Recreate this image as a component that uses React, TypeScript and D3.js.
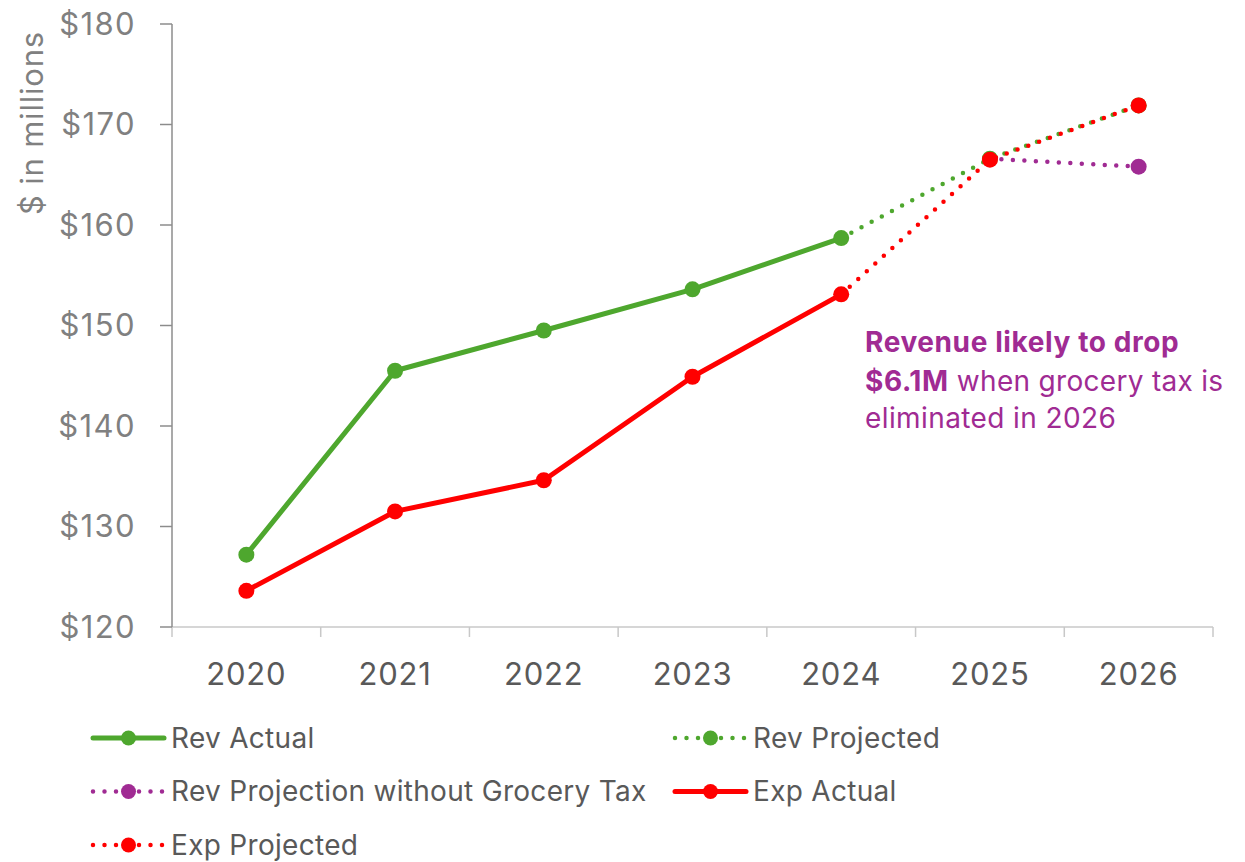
import React from "react";
import * as d3 from "d3";

const years = ["2020", "2021", "2022", "2023", "2024", "2025", "2026"];
const yTicks = [120, 130, 140, 150, 160, 170, 180];

const revActual = [127.2, 145.5, 149.5, 153.6, 158.7, null, null];
const revProjected = [null, null, null, null, 158.7, 166.6, 171.9];
const revNoGrocery = [null, null, null, null, null, 166.6, 165.8];
const expActual = [123.6, 131.5, 134.6, 144.9, 153.1, null, null];
const expProjected = [null, null, null, null, 153.1, 166.5, 171.9];

const GREEN = "#4EA72E";
const RED = "#FF0000";
const PURPLE = "#A02B93";
const FONT = "Inter, 'Open Sans', sans-serif";

type S = { name: string; values: (number | null)[]; color: string; dotted: boolean; markerAt: number[] };

const series: S[] = [
  { name: "Rev Projection without Grocery Tax", values: revNoGrocery, color: PURPLE, dotted: true, markerAt: [6] },
  { name: "Rev Projected", values: revProjected, color: GREEN, dotted: true, markerAt: [5, 6] },
  { name: "Rev Actual", values: revActual, color: GREEN, dotted: false, markerAt: [0, 1, 2, 3, 4] },
  { name: "Exp Projected", values: expProjected, color: RED, dotted: true, markerAt: [5, 6] },
  { name: "Exp Actual", values: expActual, color: RED, dotted: false, markerAt: [0, 1, 2, 3, 4] },
];

const legendItems = [
  { name: "Rev Actual", color: GREEN, dotted: false, col: 0, row: 0 },
  { name: "Rev Projected", color: GREEN, dotted: true, col: 1, row: 0 },
  { name: "Rev Projection without Grocery Tax", color: PURPLE, dotted: true, col: 0, row: 1 },
  { name: "Exp Actual", color: RED, dotted: false, col: 1, row: 1 },
  { name: "Exp Projected", color: RED, dotted: true, col: 0, row: 2 },
];

export default function App() {
  const W = 1245, H = 862;
  const left = 172, right = 1213, top = 24, bottom = 627;
  const x = d3.scaleBand<string>().domain(years).range([left, right]).padding(0);
  const y = d3.scaleLinear().domain([120, 180]).range([bottom, top]);
  const cx = (i: number) => (x(years[i]) as number) + x.bandwidth() / 2;

  const line = d3
    .line<number | null>()
    .defined((d) => d !== null)
    .x((_, i) => cx(i))
    .y((d) => y(d as number));

  const yAxisColor = "#8C8C8C";
  const xAxisColor = "#C8C8C8";

  return (
    <svg width={W} height={H} style={{ position: "absolute", left: 0, top: 0, background: "#fff" }}>
      {/* x axis */}
      <line x1={left} x2={right} y1={bottom} y2={bottom} stroke={xAxisColor} strokeWidth={1.5} />
      {years.map((yr) => (
        <line key={"t" + yr} x1={x(yr) as number} x2={x(yr) as number} y1={bottom} y2={bottom + 10} stroke={xAxisColor} strokeWidth={1.5} />
      ))}
      <line x1={right} x2={right} y1={bottom} y2={bottom + 10} stroke={xAxisColor} strokeWidth={1.5} />
      {years.map((yr, i) => (
        <text key={yr} x={cx(i)} y={674} dy="0.35em" textAnchor="middle" fontFamily={FONT} fontSize={31} letterSpacing={0.8} fill="#595959">
          {yr}
        </text>
      ))}
      {/* y axis */}
      <line x1={left} x2={left} y1={top} y2={bottom} stroke={yAxisColor} strokeWidth={1.5} />
      {yTicks.map((t) => (
        <g key={t}>
          <line x1={left - 12} x2={left} y1={y(t)} y2={y(t)} stroke={yAxisColor} strokeWidth={1.5} />
          <text x={left - 36} y={y(t)} dy="0.35em" textAnchor="end" fontFamily={FONT} fontSize={31} letterSpacing={1.4} fill="#808080">
            {"$" + t}
          </text>
        </g>
      ))}
      <text
        transform={`translate(43,123) rotate(-90)`}
        textAnchor="middle"
        fontFamily={FONT}
        fontSize={31}
        letterSpacing={0.8}
        fill="#808080"
      >
        $ in millions
      </text>
      {/* series */}
      {series.map((s) => (
        <g key={s.name}>
          <path
            d={line(s.values) || ""}
            fill="none"
            stroke={s.color}
            strokeWidth={s.dotted ? 4.5 : 5}
            strokeLinecap="round"
            strokeLinejoin="round"
            strokeDasharray={s.dotted ? "0 11.5" : undefined}
          />
          {s.markerAt.map((i) =>
            s.values[i] !== null ? (
              <circle key={i} cx={cx(i)} cy={y(s.values[i] as number)} r={8} fill={s.color} />
            ) : null
          )}
        </g>
      ))}
      {/* annotation */}
      <text fontFamily={FONT} fontSize={28} fill={PURPLE}>
        <tspan x={865} y={352} fontWeight="bold" letterSpacing={0.6}>Revenue likely to drop</tspan>
        <tspan x={865} y={391} fontWeight="bold" letterSpacing={0.6}>$6.1M</tspan>
        <tspan letterSpacing={0.3}> when grocery tax is</tspan>
        <tspan x={865} y={428} letterSpacing={0.4}>eliminated in 2026</tspan>
      </text>
      {/* legend */}
      {legendItems.map((l) => {
        const lx = l.col === 0 ? 93 : 675;
        const ly = 738 + l.row * 53.5;
        return (
          <g key={l.name}>
            <line
              x1={lx}
              x2={lx + 71}
              y1={ly}
              y2={ly}
              stroke={l.color}
              strokeWidth={l.dotted ? 4.5 : 5}
              strokeLinecap="round"
              strokeDasharray={l.dotted ? "0 11.5" : undefined}
            />
            <circle cx={lx + 35.5} cy={ly} r={7.5} fill={l.color} />
            <text x={lx + 78} y={ly} dy="0.35em" fontFamily={FONT} fontSize={28} letterSpacing={0.3} fill="#595959">
              {l.name}
            </text>
          </g>
        );
      })}
    </svg>
  );
}
